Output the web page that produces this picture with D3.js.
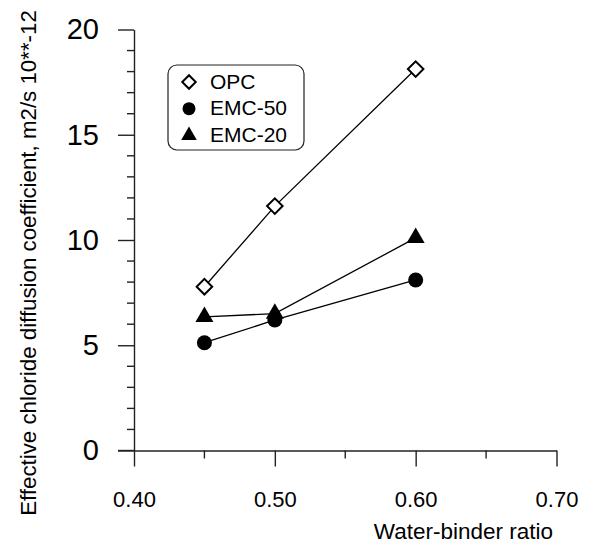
<!DOCTYPE html>
<html>
<head>
<meta charset="utf-8">
<script src="https://cdn.jsdelivr.net/npm/d3@7"></script>
<style>
  body { margin: 0; background: #fff; }
  text { font-family: "Liberation Sans", Arial, sans-serif; fill: #000; }
</style>
</head>
<body>
<div id="chart"></div>
<script>
const ratios = [0.45, 0.50, 0.60];
const opc = [7.78, 11.61, 18.12];
const emc50 = [5.12, 6.2, 8.1];
const emc20 = [6.35, 6.5, 10.1];
const seriesNames = ["OPC", "EMC-50", "EMC-20"];
const xTicks = [0.40, 0.50, 0.60, 0.70];
const xMinor = [0.45, 0.55, 0.65];
const yTicks = [0, 5, 10, 15, 20];
const yMinor = [1, 2, 3, 4, 6, 7, 8, 9, 11, 12, 13, 14, 16, 17, 18, 19];

const chartWidth = 591, chartHeight = 548;

const svg = d3.select("#chart").append("svg")
    .attr("width", chartWidth)
    .attr("height", chartHeight);

const x = d3.scaleLinear().domain([0.4, 0.7]).range([134, 556.5]);
const y = d3.scaleLinear().domain([0, 20]).range([450.5, 29.5]);

const axisColor = "#222";

// y axis
const yAxis = svg.append("g")
    .attr("transform", `translate(${x(0.4)},0)`)
    .call(d3.axisLeft(y).tickValues(yTicks).tickSize(16).tickSizeOuter(0).tickPadding(19).tickFormat(d3.format("d")));
yAxis.selectAll("text").style("font-size", "29px").attr("fill", "#000");
yAxis.selectAll("line, path").attr("stroke", axisColor).attr("stroke-width", 1.4);
yAxis.selectAll(".minor").data(yMinor).enter().append("line")
    .attr("x1", -7).attr("x2", 0)
    .attr("y1", d => y(d)).attr("y2", d => y(d))
    .attr("stroke", axisColor).attr("stroke-width", 1.4);

// x axis
const xAxis = svg.append("g")
    .attr("transform", `translate(0,${y(0)})`)
    .call(d3.axisBottom(x).tickValues(xTicks).tickSize(16).tickSizeOuter(0).tickFormat(d3.format(".2f")));
xAxis.selectAll("text").style("font-size", "22px").attr("fill", "#000")
    .attr("y", 41).attr("dy", "0.71em");
xAxis.selectAll("line, path").attr("stroke", axisColor).attr("stroke-width", 1.4);
xAxis.selectAll(".minor").data(xMinor).enter().append("line")
    .attr("x1", d => x(d)).attr("x2", d => x(d))
    .attr("y1", 0).attr("y2", 8)
    .attr("stroke", axisColor).attr("stroke-width", 1.4);
// x axis line runs left to the y tick ends
xAxis.append("line")
    .attr("x1", x(0.4) - 16).attr("x2", x(0.4))
    .attr("y1", 0).attr("y2", 0)
    .attr("stroke", axisColor).attr("stroke-width", 1.4);

// axis titles
svg.append("text")
    .attr("x", 553).attr("y", 539)
    .attr("text-anchor", "end")
    .style("font-size", "22.5px")
    .text("Water-binder ratio");

svg.append("text")
    .attr("transform", "translate(36,263) rotate(-90)")
    .attr("text-anchor", "middle")
    .style("font-size", "22.3px")
    .text("Effective chloride diffusion coefficient, m2/s 10**-12");

// series
const series = [
    { name: seriesNames[0], values: opc, shape: "diamond" },
    { name: seriesNames[1], values: emc50, shape: "circle" },
    { name: seriesNames[2], values: emc20, shape: "triangle" }
];

const line = d3.line()
    .x((d, i) => x(ratios[i]))
    .y(d => y(d));

svg.selectAll(".series-line")
    .data(series)
    .enter().append("path")
    .attr("class", "series-line")
    .attr("d", d => line(d.values))
    .attr("fill", "none")
    .attr("stroke", "#000")
    .attr("stroke-width", 1.3);

function drawMarker(g, shape, scale) {
    if (shape === "diamond") {
        g.append("path")
            .attr("d", d3.symbol().type(d3.symbolSquare).size(121 * scale)())
            .attr("transform", "rotate(45)")
            .attr("fill", "#fff")
            .attr("stroke", "#000")
            .attr("stroke-width", 2);
    } else if (shape === "circle") {
        g.append("path")
            .attr("d", d3.symbol().type(d3.symbolCircle).size(177 * scale)())
            .attr("fill", "#000");
    } else {
        g.append("path")
            .attr("d", d3.symbol().type(d3.symbolTriangle).size(140 * scale)())
            .attr("fill", "#000");
    }
}

series.forEach(s => {
    s.values.forEach((v, i) => {
        const g = svg.append("g").attr("transform", `translate(${x(ratios[i])},${y(v)})`);
        drawMarker(g, s.shape, 1);
    });
});

// legend
const legend = svg.append("g");
legend.append("rect")
    .attr("x", 168).attr("y", 65)
    .attr("width", 136).attr("height", 85)
    .attr("rx", 9).attr("ry", 9)
    .attr("fill", "#fff")
    .attr("stroke", "#222")
    .attr("stroke-width", 1.2);

series.forEach((s, i) => {
    const cy = 82 + i * 26.7;
    const g = legend.append("g").attr("transform", `translate(189,${cy})`);
    drawMarker(g, s.shape, 0.75);
    legend.append("text")
        .attr("x", 210).attr("y", cy + 6.5)
        .style("font-size", "21px")
        .text(s.name);
});
</script>
</body>
</html>
